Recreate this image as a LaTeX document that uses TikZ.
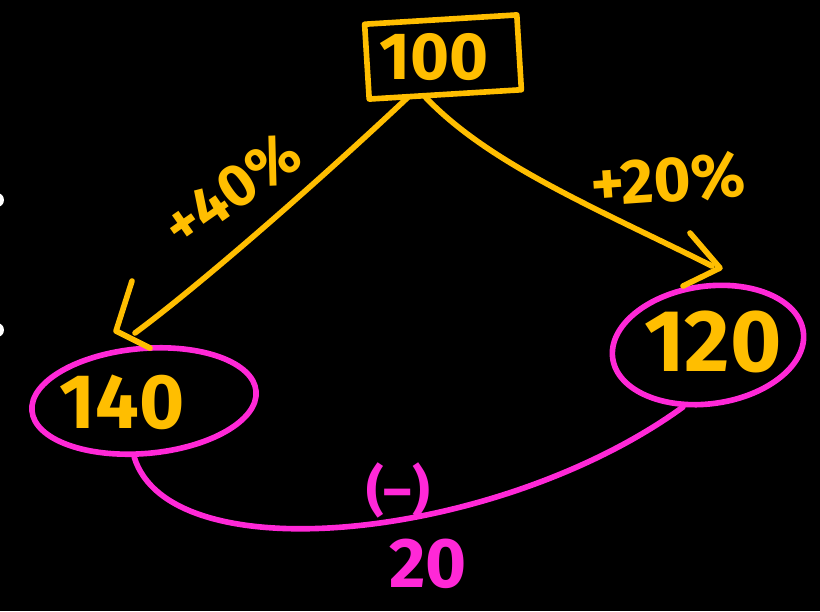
\documentclass[tikz,border=0pt]{standalone}
\usepackage{fontspec}
\setmainfont{Fira Sans}
\usetikzlibrary{shapes.geometric}
\definecolor{amber}{RGB}{255,190,0}
\definecolor{mag}{RGB}{255,40,215}
\begin{document}
\begin{tikzpicture}[x=0.02cm,y=-0.02cm,
  pen/.style={line width=3.2pt, line cap=round, line join=round},
  ytext/.style={text=amber, inner sep=0pt},
  mtext/.style={text=mag, inner sep=0pt},
  fs/.style={font=\fontsize{#1}{#1}\selectfont\bfseries}]
\fill[black] (0,0) rectangle (820,611);
\useasboundingbox (0,0) rectangle (820,611);
% small white marks at the left edge
\fill[white] (-3,200) circle (7);
\fill[white] (-3,330) circle (7);
% top box
\node[draw=amber, pen, rotate=3.5, minimum width=3.05cm, minimum height=1.5cm] (box) at (443,57) {};
\node[ytext, fs=38] (t100) at (434,57) {100};
% ellipses
\node[ellipse, draw=mag, pen, minimum width=4.5cm, minimum height=2.1cm, rotate=5] (e140) at (144,401) {};
\node[ytext, fs=44] (t140) at (122,402) {140};
\node[ellipse, draw=mag, pen, minimum width=3.85cm, minimum height=2.35cm, rotate=8] (e120) at (708,345) {};
\node[ytext, fs=50] (t120) at (713,342) {120};
% arrows
\coordinate (tipL) at (116,331);
\coordinate (tipR) at (720,268);
\draw[pen, amber] ([xshift=-0.75cm]box.south) .. controls (320,180) and (200,285) .. (135,333);
\draw[pen, amber] (132,281) -- (tipL) -- (150,348);
\draw[pen, amber] ([xshift=-0.4cm]box.south) .. controls (490,165) and (600,210) .. (712,266);
\draw[pen, amber] (690,233) -- (tipR) -- (683,286);
% labels on arrows
\node[ytext, fs=34, rotate=35] (l40) at (232,190) {+40\%};
\node[ytext, fs=36, rotate=4] (l20) at (668,180) {+20\%};
% bottom curve
\draw[pen, mag] (e140.255) .. controls (170,575) and (500,540) .. (e120.240);
\node[mtext, fs=31] (minus) at (398,490) {(\textendash)};
\node[mtext, fs=40] (t20) at (428,564) {20};
\end{tikzpicture}
\end{document}
